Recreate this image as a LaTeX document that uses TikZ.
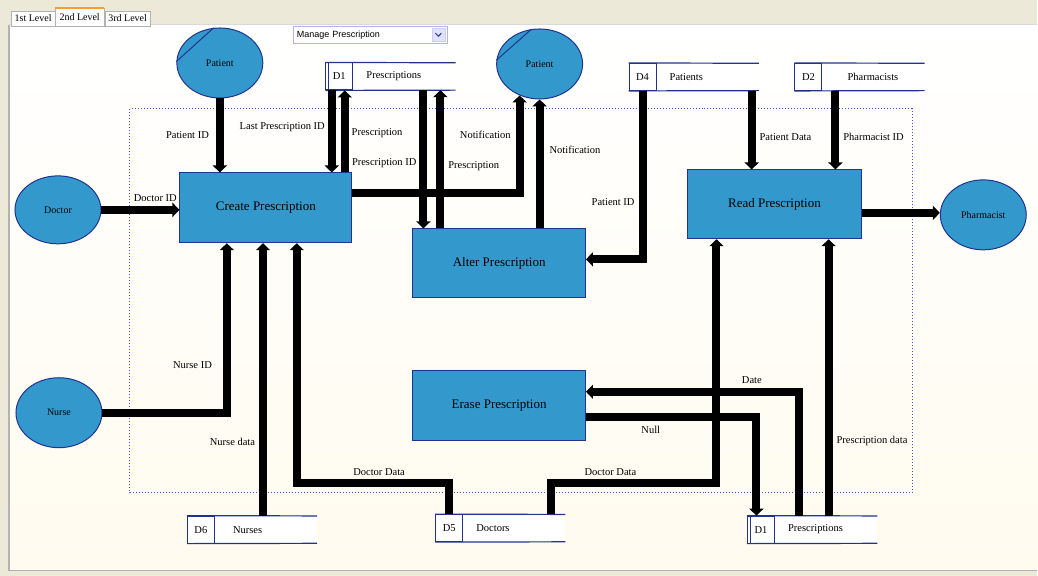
\documentclass[tikz,border=0pt]{standalone}
\usepackage{fontspec}
\setmainfont{Liberation Serif}
\newfontfamily\uifont{Liberation Sans}
\usetikzlibrary{arrows.meta,positioning,shapes.geometric}
\definecolor{procblue}{HTML}{3399CC}
\definecolor{edgeblue}{HTML}{22338F}
\definecolor{winbeige}{HTML}{ECE9D8}
\definecolor{canvascream}{HTML}{FFFBEF}
\definecolor{dotblue}{HTML}{4455CC}

\begin{document}
\begin{tikzpicture}[
    x=1pt, y=-1pt,
    proc/.style={draw=edgeblue, fill=procblue, line width=0.8pt, minimum width=173pt, minimum height=70pt, font=\fontsize{13}{15}\selectfont},
    agent/.style={ellipse, draw=edgeblue, fill=procblue, line width=1pt, minimum width=86pt, minimum height=70pt, inner sep=0pt, font=\fontsize{10}{12}\selectfont},
    storeid/.style={draw=edgeblue, fill=white, line width=1pt, minimum width=27pt, minimum height=27pt, inner sep=0pt, font=\fontsize{10.5}{12}\selectfont},
    storename/.style={fill=white, minimum height=27pt, text width=76pt, inner xsep=13pt, inner ysep=0pt, align=left, font=\fontsize{10.5}{12}\selectfont},
    storeline/.style={draw=edgeblue, line width=1.2pt},
    link/.style={-{Triangle[length=7pt,width=14pt]}, line width=8pt},
    lbl/.style={font=\fontsize{10.5}{12}\selectfont, inner sep=1pt},
    tab/.style={draw=gray!60, fill=white, anchor=south west, minimum height=15pt, inner sep=1pt, font=\fontsize{10}{12}\selectfont}
]
% window and canvas
\fill[winbeige] (0,0) rectangle (1038,576);
\fill[top color=white, bottom color=canvascream] (9,25) rectangle (1038,571);
\draw[gray!60, line width=1.5pt] (9,25) -- (9,571) -- (1038,571);
\draw[gray!30, line width=1pt] (9,25) -- (1038,25);

% level tabs
\node[tab, minimum width=44pt] (tab1) at (11,26) {1st Level};
\node[tab, minimum width=49pt, minimum height=18pt] (tab2) at (55,26) {2nd Level};
\node[tab, minimum width=45pt] (tab3) at (105,26) {3rd Level};
\draw[orange!80, line width=2pt] (tab2.north west) -- (tab2.north east);

% process selector
\node[draw=gray!50!blue!40, fill=white, anchor=north west, minimum width=154pt, minimum height=17pt, text width=146pt, inner xsep=4pt, inner ysep=0pt, align=left, font=\uifont\fontsize{9}{11}\selectfont] (menu) at (293,26) {Manage Prescription};
\node[fill=blue!12, draw=blue!20, minimum size=13pt, inner sep=0pt, anchor=east] (menubtn) at ([xshift=-2pt]menu.east) {};
\draw[edgeblue, line width=1pt] ([xshift=-3pt,yshift=1.5pt]menubtn.center) -- ([yshift=-1.5pt]menubtn.center) -- ([xshift=3pt,yshift=1.5pt]menubtn.center);

% system boundary
\draw[dotblue, dotted, line width=1pt] (130,109) rectangle (913,493);

% external entities
\node[agent] (patA) at (220,63) {Patient};
\draw[edgeblue, line width=1pt] (patA.178) -- (patA.100);
\node[agent] (patB) at (540,64) {Patient};
\draw[edgeblue, line width=1pt] (patB.175) -- (patB.103);
\node[agent, minimum height=68pt] (doctor) at (58,210) {Doctor};
\node[agent] (nurse) at (59,413) {Nurse};
\node[agent] (pharm) at (984,215) {Pharmacist};

% processes
\node[proc, minimum width=172pt] (create) at (266,208) {Create Prescription};
\node[proc, minimum height=69pt] (alter) at (499.5,263.5) {Alter Prescription};
\node[proc, minimum width=174pt, minimum height=69pt] (read) at (775,204.5) {Read Prescription};
\node[proc] (erase) at (499.5,406) {Erase Prescription};

% data stores
\node[storeid] (d1a) at (339.5,76.5) {D1};
\node[storename, right=0pt of d1a] (d1aname) {Prescriptions};
\node[storeid] (d4) at (643,77) {D4};
\node[storename, right=0pt of d4] (d4name) {Patients};
\node[storeid] (d2) at (809,77) {D2};
\node[storename, right=0pt of d2] (d2name) {\hspace*{12pt}Pharmacists};
\node[storeid] (d6) at (201,530) {D6};
\node[storename, right=0pt of d6] (d6name) {\hspace*{5pt}Nurses};
\node[storeid] (d5) at (449.5,528.5) {D5};
\node[storename, right=0pt of d5] (d5name) {Doctors};
\node[storeid] (d1b) at (761.5,530) {D1};
\node[storename, right=0pt of d1b] (d1bname) {Prescriptions};
\foreach \s/\n in {d1a/d1aname, d4/d4name, d2/d2name, d6/d6name, d5/d5name, d1b/d1bname} {
    \draw[storeline] (\s.north west) -- (\n.north east);
    \draw[storeline] (\s.south west) -- (\n.south east);
}
\draw[storeline] ([xshift=3.5pt]d1a.north west) -- ([xshift=3.5pt]d1a.south west);
\draw[storeline] ([xshift=3.5pt]d1b.north west) -- ([xshift=3.5pt]d1b.south west);

% data flows into Create Prescription
\draw[link] (patA.south) -- node[lbl, left=6pt] {Patient ID} (patA.south |- create.north);
\draw[link] ([xshift=-7.5pt]d1a.south) -- node[lbl, pos=.45, left=2pt] {Last Prescription ID} ([xshift=-7.5pt]d1a.south |- create.north);
\draw[link] ([xshift=5.5pt]d1a.south |- create.north) -- node[lbl, pos=.48, right=2pt] {Prescription} ([xshift=5.5pt]d1a.south);
\draw[link] (doctor.east) -- node[lbl, pos=.69, above=3pt] {Doctor ID} (create.west |- doctor.east);
\draw[link] (nurse.east) -| node[lbl, pos=.64, left=10pt] {Nurse ID} ([xshift=-39pt]create.south);
\draw[link] ([xshift=-3pt]d6name.north) -- node[lbl, pos=.27, left=3pt] {Nurse data} ([xshift=-3pt]d6name.north |- create.south);
\draw[link] (d5.north) -- ++(0,-31) -| node[lbl, pos=.23, above=3pt] {Doctor Data} ([xshift=31pt]create.south);
\draw[link] ([yshift=15pt]create.east) -| node[lbl, pos=.8, left=4pt] {Notification} ([xshift=-20pt,yshift=4pt]patB.south);

% data flows of Alter Prescription
\draw[link] ([xshift=19pt]d1aname.south) -- node[lbl, pos=.525, left=2pt] {Prescription ID} ([xshift=19pt]d1aname.south |- alter.north);
\draw[link] ([xshift=36pt]d1aname.south |- alter.north) -- node[lbl, pos=.45, right=3pt] {Prescription} ([xshift=36pt]d1aname.south);
\draw[link] (alter.north -| patB.south) -- node[lbl, pos=.61, right=5pt] {Notification} (patB.south);
\draw[link] (d4.south) |- node[lbl, pos=.33, left=3pt] {Patient ID} ([yshift=4pt]alter.east);

% data flows of Read Prescription
\draw[link] ([xshift=44pt]d4name.south) -- node[lbl, pos=.59, right=3pt] {Patient Data} ([xshift=44pt]d4name.south |- read.north);
\draw[link] ([xshift=27pt]d2.south) -- node[lbl, pos=.59, right=3pt] {Pharmacist ID} ([xshift=27pt]d2.south |- read.north);
\draw[link] ([yshift=-8.5pt]read.east) -- ([yshift=-8.5pt]read.east -| pharm.west);
\draw[link] ([xshift=36.5pt]d5name.north) -- ++(0,-31) -| node[lbl, pos=.18, above=3pt] {Doctor Data} ([xshift=-58pt]read.south);
\draw[link] ([xshift=2.5pt]d1bname.north) -- node[lbl, pos=.27, right=3pt] {Prescription data} ([xshift=2.5pt]d1bname.north |- read.south);

% data flows of Erase Prescription
\draw[link] ([xshift=-27.5pt]d1bname.north) |- node[lbl, pos=.61, above=3pt] {Date} ([yshift=14pt]erase.east);
\draw[link] ([yshift=-11pt]erase.east) -| node[lbl, pos=.19, below=5pt] {Null} ([xshift=-4.5pt]d1b.north);
\end{tikzpicture}
\end{document}
